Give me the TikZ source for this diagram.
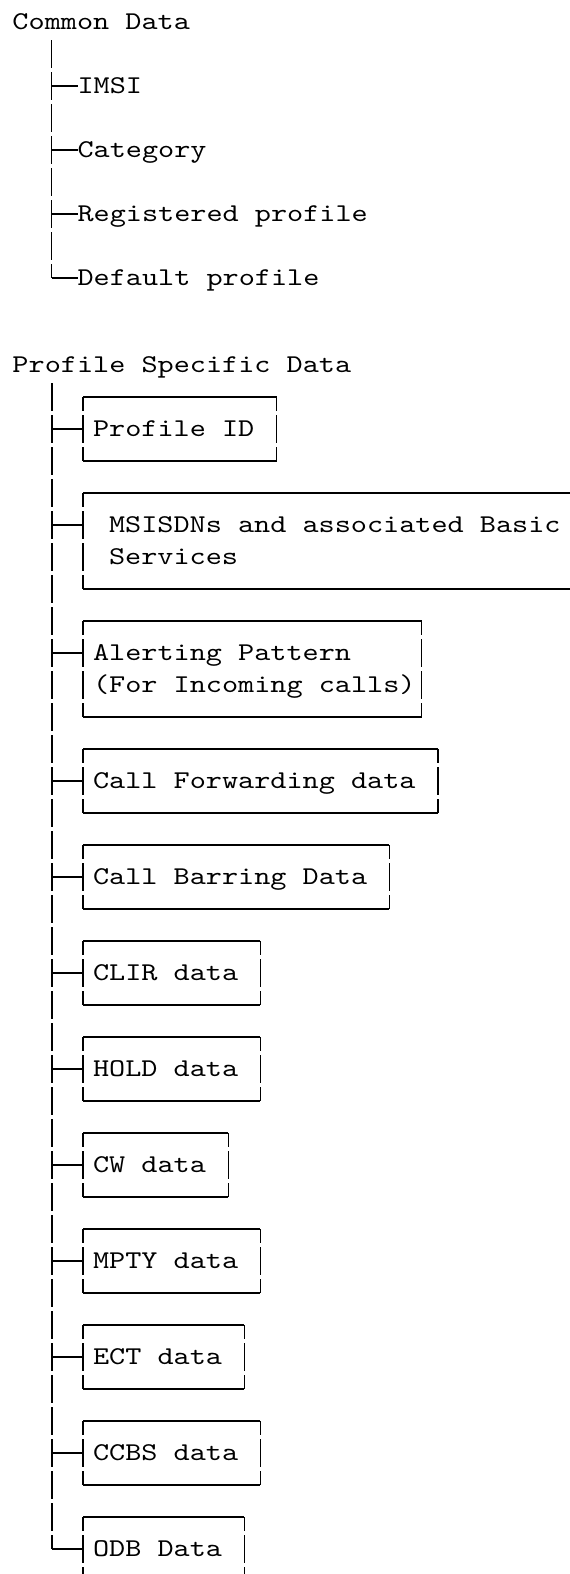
\documentclass[tikz,border=0pt]{standalone}
\usepackage{fontspec}
\usetikzlibrary{positioning}
\newfontfamily\asciifont[FakeStretch=1.2]{lmmono10-regular.otf}
\newcommand{\asciistyle}{\asciifont\fontsize{25.6pt}{32pt}\selectfont
    \spaceskip=16.128pt\relax\xspaceskip=16.128pt\relax}
\newcommand{\cellline}[2]{\makebox[#1][l]{#2}}

\begin{document}
\begin{tikzpicture}[x=1pt, y=1pt, line width=1.4pt, outer sep=0pt,
        font=\asciistyle,
        head/.style = {anchor=west, inner sep=0pt, text height=20pt, text depth=4.4pt},
        leaf/.style = {head},
        databox/.style = {inner xsep=10pt, inner ysep=0pt, align=left,
            text height=20pt, text depth=4.4pt, minimum height=64pt},
        databox2/.style = {databox, text height=52pt, minimum height=96pt},
        vbar/.style = {dash pattern=on 28pt off 4pt}]
    \useasboundingbox (0,0) rectangle (570,-1574);
    \clip (0,0) rectangle (570,-1574);

    % common data
    \node[head] (cd) at (12.5,-22) {Common Data};
    \node[leaf] (imsi) at (77.5,-86) {IMSI};
    \node[leaf, below=64pt of imsi.west, anchor=west] (cat) {Category};
    \node[leaf, below=64pt of cat.west, anchor=west] (reg) {Registered profile};
    \node[leaf, below=64pt of reg.west, anchor=west] (dflt) {Default profile};

    \coordinate (cdbar) at ([xshift=39pt, yshift=-18pt]cd.west);
    \draw[vbar] (cdbar) -- (cdbar |- dflt.west);
    \foreach \n in {imsi, cat, reg, dflt}
        \draw (cdbar |- \n.west) -- (\n.west);

    % profile specific data
    \node[head] (psd) at (12.5,-365) {Profile Specific Data};
    \node[databox, anchor=north west] (pid) at (83,-397) {\cellline{173.5pt}{Profile ID}};
    \node[databox2, inner xsep=26pt, below=32pt of pid.south west, anchor=north west] (msisdn)
        {\cellline{540pt}{MSISDNs and associated Basic}\\\cellline{540pt}{Services}};
    \node[databox2, below=32pt of msisdn.south west, anchor=north west] (alert)
        {\cellline{318.7pt}{Alerting Pattern}\\\cellline{318.7pt}{(For Incoming calls)}};
    \node[databox, below=32pt of alert.south west, anchor=north west] (cf) {\cellline{334.8pt}{Call Forwarding data}};
    \node[databox, below=32pt of cf.south west, anchor=north west] (cb) {\cellline{286.4pt}{Call Barring Data}};
    \node[databox, below=32pt of cb.south west, anchor=north west] (clir) {\cellline{157.4pt}{CLIR data}};
    \node[databox, below=32pt of clir.south west, anchor=north west] (hold) {\cellline{157.4pt}{HOLD data}};
    \node[databox, below=32pt of hold.south west, anchor=north west] (cw) {\cellline{125.2pt}{CW data}};
    \node[databox, below=32pt of cw.south west, anchor=north west] (mpty) {\cellline{157.4pt}{MPTY data}};
    \node[databox, below=32pt of mpty.south west, anchor=north west] (ect) {\cellline{141.3pt}{ECT data}};
    \node[databox, below=32pt of ect.south west, anchor=north west] (ccbs) {\cellline{157.4pt}{CCBS data}};
    \node[databox, below=32pt of ccbs.south west, anchor=north west] (odb) {\cellline{141.3pt}{ODB Data}};

    \coordinate (psdbar) at ([xshift=39.5pt, yshift=-18pt]psd.west);
    \draw[vbar] (psdbar) -- (psdbar |- odb.west);
    \foreach \n/\s in {pid/0, msisdn/16, alert/16, cf/0, cb/0, clir/0, hold/0, cw/0, mpty/0, ect/0, ccbs/0, odb/0} {
        \coordinate (tee) at ([yshift=\s pt]\n.west);
        \draw (psdbar |- tee) -- (tee);
        \draw (\n.north west) -- (\n.north east) (\n.south west) -- (\n.south east);
        \draw[vbar, dash phase=14pt] (\n.north west) -- (\n.south west);
        \draw[vbar, dash phase=14pt] (\n.north east) -- (\n.south east);
    }
\end{tikzpicture}
\end{document}
